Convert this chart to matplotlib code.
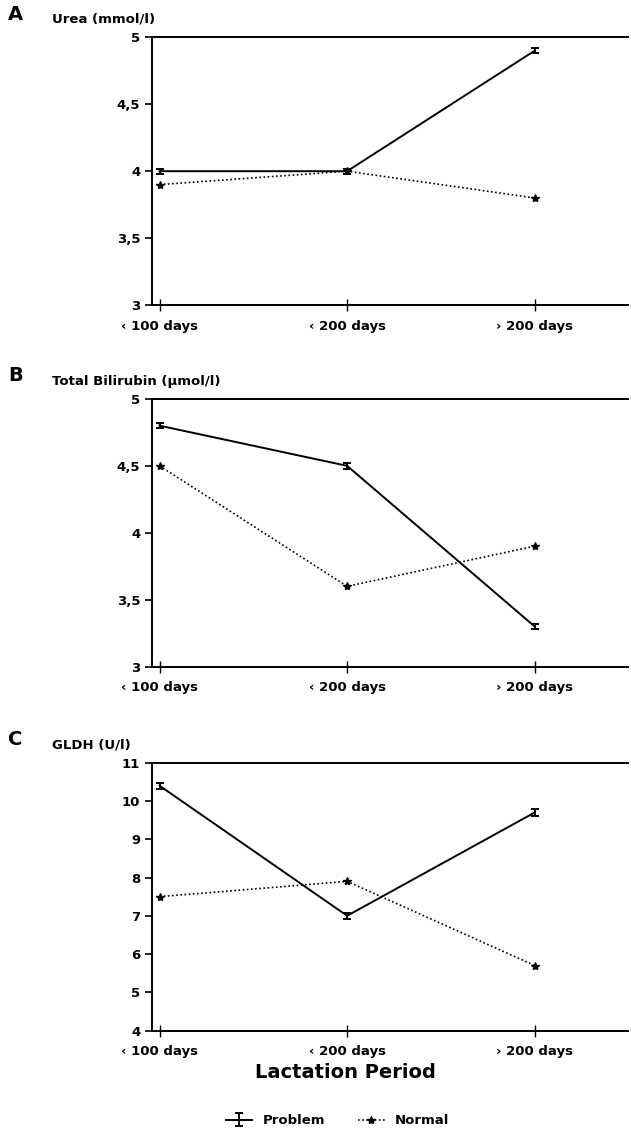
import numpy as np
import matplotlib.pyplot as plt

plt.rcParams['font.family'] = ['DejaVu Sans']

categories = ["‹ 100 days", "‹ 200 days", "› 200 days"]

urea_problem = [4.0, 4.0, 4.9]
urea_normal = [3.9, 4.0, 3.8]
bili_problem = [4.8, 4.5, 3.3]
bili_normal = [4.5, 3.6, 3.9]
gldh_problem = [10.4, 7.0, 9.7]
gldh_normal = [7.5, 7.9, 5.7]

urea_err = [0.02, 0.02, 0.02]
bili_err = [0.02, 0.02, 0.02]
gldh_err = [0.08, 0.08, 0.08]

panels = [
    ("A", "Urea (mmol/l)", urea_problem, urea_err, urea_normal,
     (3, 5), [3, 3.5, 4, 4.5, 5], ["3", "3,5", "4", "4,5", "5"]),
    ("B", "Total Bilirubin (µmol/l)", bili_problem, bili_err, bili_normal,
     (3, 5), [3, 3.5, 4, 4.5, 5], ["3", "3,5", "4", "4,5", "5"]),
    ("C", "GLDH (U/l)", gldh_problem, gldh_err, gldh_normal,
     (4, 11), list(range(4, 12)), [str(v) for v in range(4, 12)]),
]

fig = plt.figure(figsize=(6.31, 11.3), dpi=100)
tops = [0.967, 0.647, 0.325]
height = 0.237
x = np.arange(len(categories))

for (letter, title, prob, err, norm, ylim, yt, ytl), top in zip(panels, tops):
    ax = fig.add_axes([0.241, top - height, 0.755, height])
    h_prob = ax.errorbar(x, prob, yerr=err, color='black', lw=1.4, capsize=3,
                         capthick=1.4, elinewidth=1.4, label="Problem")
    h_norm, = ax.plot(x, norm, color='black', lw=1.2, ls=(0, (1, 1.5)),
                      marker='*', markersize=6, label="Normal")
    ax.set_xlim(-0.04, 2.5)
    ax.set_ylim(*ylim)
    ax.set_yticks(yt)
    ax.set_yticklabels(ytl, fontweight='bold', fontsize=9.5)
    ax.set_xticks(x)
    ax.set_xticklabels(categories, fontweight='bold', fontsize=9.5)
    ax.tick_params(axis='y', direction='out', length=5, width=1.2)
    ax.tick_params(axis='x', direction='inout', length=9, width=1.0, pad=6)
    for s in ['left', 'top', 'bottom']:
        ax.spines[s].set_linewidth(1.4)
    ax.spines['right'].set_visible(False)
    fig.text(0.013, top + 0.012, letter, fontsize=14, fontweight='bold', va='bottom')
    fig.text(0.083, top + 0.010, title, fontsize=9.5, fontweight='bold', va='bottom')

fig.text(0.548, 0.051, "Lactation Period", fontsize=14, fontweight='bold', ha='center', va='center')

fig.legend([h_prob, h_norm], ["Problem", "Normal"], loc='center',
           bbox_to_anchor=(0.535, 0.008), ncol=2, frameon=False,
           prop={'weight': 'bold', 'size': 9.5}, handlelength=2.0, columnspacing=2.5)

fig.savefig("out.png", dpi=100)
